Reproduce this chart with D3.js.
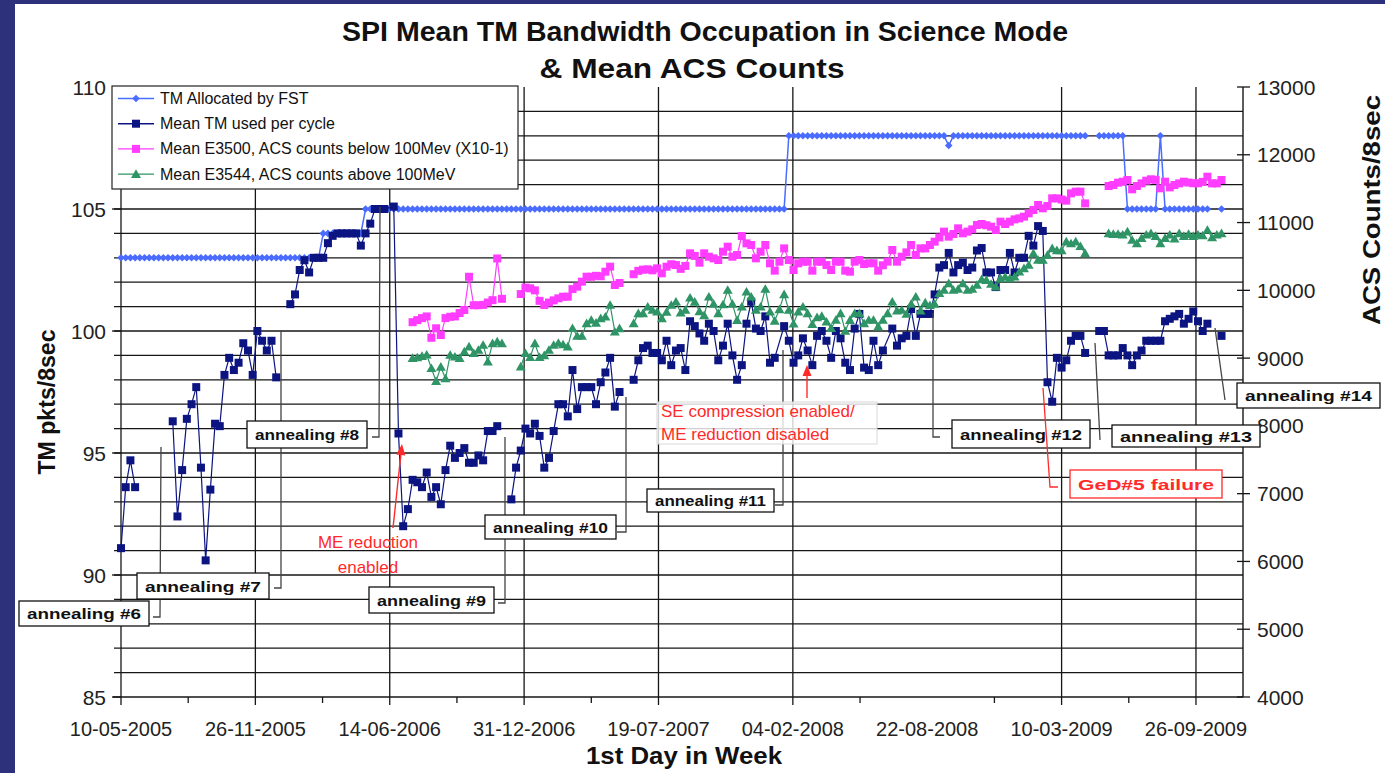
<!DOCTYPE html>
<html>
<head>
<meta charset="utf-8">
<script src="https://cdn.jsdelivr.net/npm/d3@7"></script>
<style>
  html, body { margin: 0; padding: 0; background: #2d317c; }
  #chart { width: 1385px; height: 773px; }
  text { font-family: 'Liberation Sans', Arial, sans-serif; }
</style>
</head>
<body>
<div id="chart"></div>
<script>
// ---------- values ----------

// x axis: one point per week, week 0 = 10-05-2005
const firstDay = '10-05-2005'
const daysShown = 1670
const xTickLabels = ['10-05-2005', '26-11-2005', '14-06-2006', '31-12-2006', '19-07-2007',
  '04-02-2008', '22-08-2008', '10-03-2009', '26-09-2009']
const xTicksWithoutGrid = ['22-08-2008']
const xMinorTickDays = [100, 300, 500, 700, 1100, 1300, 1500]

const yLeftTicks = [85, 90, 95, 100, 105, 110]
const yRightTicks = [4000, 5000, 6000, 7000, 8000, 9000, 10000, 11000, 12000, 13000]

const seriesNames = ['TM Allocated by FST', 'Mean TM used per cycle',
  'Mean E3500, ACS counts below 100Mev (X10-1)', 'Mean E3544, ACS counts above 100MeV']
const seriesColors = ['#4a6cff', '#0b1480', '#ff3cff', '#2f9466']

// TM allocated by FST, as runs [first week, last week, pkts]; null = no data
const tmAllocatedRuns = [[0, 42, 103], [43, 51, 104], [52, 141, 105], [142, 175, 108], [176, 176, 107.6],
  [177, 205, 108], null, [208, 213, 108], [214, 220, 105], [221, 221, 108], [222, 231, 105], null,
  [234, 234, 105]]

// mean TM used per cycle [week, pkts]; null = gap in the line
const tmUsed = [[0, 91.1], [1, 93.6], [2, 94.7], [3, 93.6], null,
  [11, 96.3], [12, 92.4], [13, 94.3], [14, 96.4], [15, 97.0], [16, 97.7], [17, 94.4], [18, 90.6], [19, 93.5],
  [20, 96.2], [21, 96.1], [22, 98.2], [23, 98.9], [24, 98.4], [25, 98.7], [26, 99.5], [27, 99.2], [28, 98.2],
  [29, 100.0], [30, 99.6], [31, 99.2], [32, 99.6], [33, 98.1], null,
  [36, 101.1], [37, 101.5], [38, 102.5], [39, 102.9], [40, 102.4], [41, 103.0], [42, 103.0], [43, 103.0],
  [44, 103.6], [45, 103.9], [46, 104.0], [47, 104.0], [48, 104.0], [49, 104.0], [50, 104.0], [51, 103.5],
  [52, 104.0], [53, 104.4], [54, 105.0], [55, 105.0], [56, 105.0], [58, 105.1], [59, 95.8], [60, 92.0],
  [61, 92.7], [62, 93.9], [63, 93.8], [64, 93.6], [65, 94.2], [66, 93.2], [67, 93.6], [68, 92.9], [69, 94.3],
  [70, 95.3], [71, 94.8], [72, 95.0], [73, 95.2], [74, 94.6], [75, 94.6], [76, 94.9], [77, 94.7], [78, 95.9],
  [79, 95.9], [80, 96.1], null,
  [83, 93.1], [84, 94.4], [85, 95.1], [86, 96.0], [87, 95.8], [88, 96.2], [89, 95.7], [90, 94.4], [91, 94.8],
  [92, 95.9], [93, 97.0], [94, 97.0], [95, 96.5], [96, 98.4], [97, 96.8], [98, 97.7], [99, 97.7], [100, 97.7],
  [101, 97.0], [102, 97.9], [103, 98.3], [104, 98.9], [105, 96.9], [106, 97.5], null,
  [109, 98.0], [110, 98.8], [111, 99.3], [112, 99.4], [113, 99.1], [114, 99.1], [115, 98.8], [116, 99.6],
  [117, 98.6], [118, 99.2], [119, 99.3], [120, 98.4], [121, 100.4], [122, 100.2], [123, 99.9], [124, 99.6],
  [125, 100.3], [126, 100.0], [127, 98.8], [128, 99.4], [129, 100.3], [130, 99.0], [131, 98.0], [132, 98.6],
  [133, 100.3], [134, 101.2], [135, 100.1], [136, 100.0], [137, 100.6], [138, 98.7], [139, 98.9], [141, 100.2],
  [142, 99.6], [143, 98.7], [144, 99.0], [145, 99.7], [146, 99.2], [147, 98.6], [148, 99.8], [149, 100.0],
  [150, 99.6], [151, 98.9], [152, 100.0], [153, 99.7], [154, 98.7], [155, 98.4], [156, 100.1], [157, 100.7],
  [158, 98.5], [159, 98.4], [160, 99.6], [161, 98.6], [162, 99.2], [164, 100.1], [165, 99.4], [166, 99.7],
  [167, 99.8], [168, 100.9], [169, 99.8], [170, 100.7], [171, 100.7], [172, 100.7], [173, 101.5], [174, 102.6],
  [175, 102.7], [176, 103.2], [177, 102.4], [178, 102.7], [179, 102.8], [180, 102.5], [181, 102.6], [182, 103.3],
  [183, 103.4], [184, 102.4], [185, 102.4], [186, 101.8], [187, 102.5], [188, 102.5], [189, 103.2], [190, 102.4],
  [191, 103.0], [192, 103.0], [193, 103.9], [194, 103.5], [195, 104.3], [196, 104.1], [197, 97.9], [198, 97.1],
  [199, 98.9], [200, 98.5], [201, 98.8], [202, 99.6], [203, 99.8], [204, 99.8], [205, 99.1], null,
  [208, 100.0], [209, 100.0], [210, 99.0], [211, 99.0], [212, 99.0], [213, 99.3], [214, 99.0], [215, 98.6],
  [216, 99.0], [217, 99.2], [218, 99.6], [219, 99.6], [220, 99.6], [221, 99.6], [222, 100.4], [223, 100.5],
  [224, 100.6], [225, 100.7], [226, 100.3], [227, 100.5], [228, 100.8], [229, 100.4], [230, 100.0], [231, 100.3],
  null, [234, 99.8]]

// mean E3500 ACS counts below 100 MeV, x 0.1 [week, counts]
const acsBelow = [[62, 9530], [63, 9560], [64, 9590], [65, 9615], [66, 9300], [67, 9440], [68, 9340], [69, 9590],
  [70, 9610], [71, 9615], [72, 9665], [73, 9710], [74, 10200], [75, 9780], [76, 9780], [77, 9785], [78, 9820],
  [79, 9855], [80, 10470], [81, 9875], null,
  [85, 9945], [86, 10040], [87, 10030], [88, 10000], [89, 9845], [90, 9783], [91, 9820], [92, 9852], [93, 9882],
  [94, 9906], [95, 9906], [96, 10018], [97, 10054], [98, 10128], [99, 10201], [100, 10200], [101, 10214],
  [102, 10208], [103, 10275], [104, 10349], [105, 10079], [106, 10108], null,
  [109, 10238], [110, 10288], [111, 10305], [112, 10310], [113, 10295], [114, 10324], [115, 10251], [116, 10349],
  [117, 10385], [118, 10373], [119, 10317], [120, 10360], [121, 10546], [122, 10508], [123, 10408], [124, 10546],
  [125, 10496], [126, 10472], [127, 10447], [128, 10570], [129, 10644], [130, 10496], [131, 10521], [132, 10801],
  [133, 10693], [134, 10669], [135, 10472], [136, 10570], [137, 10669], [138, 10398], [139, 10290], [140, 10423],
  [141, 10619], [142, 10447], [143, 10300], [144, 10398], [145, 10423], [146, 10423], [147, 10290], [148, 10423],
  [149, 10423], [150, 10373], [151, 10300], [152, 10423], [153, 10423], [154, 10290], [155, 10275], [156, 10423],
  [157, 10447], [158, 10388], [159, 10400], [160, 10400], [161, 10290], [162, 10370], [163, 10423], [164, 10595],
  [165, 10423], [166, 10496], [167, 10560], [168, 10669], [169, 10521], [170, 10619], [171, 10619], [172, 10669],
  [173, 10718], [174, 10780], [175, 10866], [176, 10792], [177, 10831], [178, 10915], [179, 10841], [180, 10866],
  [181, 10900], [182, 10964], [183, 10979], [184, 10960], [185, 10939], [186, 10890], [187, 11013], [188, 10979],
  [189, 11013], [190, 11047], [191, 11062], [192, 11087], [193, 11136], [194, 11185], [195, 11259], [196, 11210],
  [197, 11244], [198, 11357], [199, 11357], [200, 11340], [201, 11323], [202, 11431], [203, 11456], [204, 11456],
  [205, 11283], null,
  [210, 11539], [211, 11554], [212, 11588], [213, 11603], [214, 11628], [215, 11490], [216, 11539], [217, 11578],
  [218, 11618], [219, 11638], [220, 11630], [221, 11505], [222, 11603], [223, 11519], [224, 11554], [225, 11578],
  [226, 11603], [227, 11590], [228, 11580], [229, 11580], [230, 11600], [231, 11677], [232, 11578], [233, 11578],
  [234, 11628]]

// mean E3544 ACS counts above 100 MeV [week, counts]
const acsAbove = [[62, 9000], [63, 9010], [64, 9030], [65, 9050], [66, 8850], [67, 8660], [68, 8870], [69, 8700],
  [70, 9046], [71, 9021], [72, 8997], [73, 9095], [74, 9169], [75, 9071], [76, 9120], [77, 9194], [78, 8948],
  [79, 9218], [80, 9243], [81, 9218], null,
  [85, 8874], [86, 9071], [87, 9012], [88, 9218], [89, 9012], [90, 9040], [91, 9120], [92, 9194], [93, 9223],
  [94, 9200], [95, 9169], [96, 9440], [97, 9326], [98, 9326], [99, 9513], [100, 9562], [101, 9520], [102, 9587],
  [103, 9611], [104, 9784], [105, 9390], [106, 9439], null,
  [109, 9513], [110, 9660], [111, 9660], [112, 9758], [113, 9710], [114, 9685], [115, 9587], [116, 9680],
  [117, 9784], [118, 9832], [119, 9670], [120, 9710], [121, 9890], [122, 9830], [123, 9690], [124, 9630],
  [125, 9906], [126, 9800], [127, 9660], [128, 9790], [129, 10005], [130, 9800], [131, 9560], [132, 9758],
  [133, 9980], [134, 9906], [135, 9710], [136, 9758], [137, 10020], [138, 9685], [139, 9550], [140, 9719],
  [141, 9940], [142, 9710], [143, 9508], [144, 9685], [145, 9758], [146, 9660], [147, 9500], [148, 9601],
  [149, 9620], [150, 9537], [151, 9440], [152, 9562], [153, 9660], [154, 9400], [155, 9560], [156, 9660],
  [157, 9660], [158, 9513], [159, 9562], [160, 9562], [161, 9464], [162, 9562], [163, 9660], [164, 9832],
  [165, 9700], [166, 9710], [167, 9650], [168, 9798], [169, 9906], [170, 9700], [171, 9818], [172, 9780],
  [173, 9800], [174, 9956], [175, 10005], [176, 10103], [177, 10005], [178, 10020], [179, 10103], [180, 10005],
  [181, 10020], [182, 10079], [183, 10162], [184, 10150], [185, 10093], [186, 10054], [187, 10177], [188, 10200],
  [189, 10177], [190, 10200], [191, 10275], [192, 10324], [193, 10373], [194, 10546], [195, 10447], [196, 10447],
  [197, 10521], [198, 10619], [199, 10590], [200, 10590], [201, 10718], [202, 10690], [203, 10718], [204, 10650],
  [205, 10546], null,
  [210, 10841], [211, 10830], [212, 10830], [213, 10820], [214, 10866], [215, 10742], [216, 10693], [217, 10770],
  [218, 10820], [219, 10840], [220, 10800], [221, 10693], [222, 10770], [223, 10820], [224, 10760], [225, 10840],
  [226, 10800], [227, 10830], [228, 10800], [229, 10820], [230, 10810], [231, 10890], [232, 10780], [233, 10820],
  [234, 10841]]

// ---------- layout ----------
const visW = 1385
const visH = 773
const plot = { left: 121, right: 1243, top: 87, bottom: 697 }
const gridColor = '#161616'
const noteRed = '#ff2a2a'

const parseDay = d3.utcParse('%d-%m-%Y')
const day0 = parseDay(firstDay)
const weekDate = w => d3.utcDay.offset(day0, 7 * w)

const x = d3.scaleUtc()
  .domain([day0, d3.utcDay.offset(day0, daysShown)])
  .range([plot.left, plot.right])
const yL = d3.scaleLinear().domain([85, 110]).range([plot.bottom, plot.top])
const yR = d3.scaleLinear().domain([4000, 13000]).range([plot.bottom, plot.top])

const markers = {
  diamond: 'M0,-3.8L3.8,0L0,3.8L-3.8,0Z',
  square: 'M-4,-4H4V4H-4Z',
  triangle: 'M0,-4.8L5,3.8H-5Z'
}

const vis = d3.select('#chart')
  .append('svg')
  .attr('width', visW)
  .attr('height', visH)

// page frame
vis.append('rect').attr('width', visW).attr('height', visH).attr('fill', '#2d317c')
vis.append('rect').attr('x', 15).attr('y', 4).attr('width', visW - 15).attr('height', visH - 4).attr('fill', '#fff')

function fitText (sel, width) {
  return sel.attr('textLength', width).attr('lengthAdjust', 'spacingAndGlyphs')
}

/* ---------- grid and axes ---------- */

function setupGrid () {
  const g = vis.append('g')
  // horizontal lines every pkt
  const rows = d3.range(86, 110)
  g.selectAll('line.h').data(rows).join('line')
    .attr('x1', 114)
    .attr('x2', plot.right)
    .attr('y1', d => yL(d))
    .attr('y2', d => yL(d))
    .attr('stroke', gridColor)
    .attr('stroke-width', 1.3)

  // vertical lines at the labelled dates
  const cols = xTickLabels.filter(d => !xTicksWithoutGrid.includes(d)).map(parseDay)
  g.selectAll('line.v').data(cols).join('line')
    .attr('x1', d => x(d))
    .attr('x2', d => x(d))
    .attr('y1', plot.top)
    .attr('y2', plot.bottom + 8)
    .attr('stroke', gridColor)
    .attr('stroke-width', 1.3)

  g.selectAll('line.m').data(xMinorTickDays).join('line')
    .attr('x1', d => x(d3.utcDay.offset(day0, d)))
    .attr('x2', d => x(d3.utcDay.offset(day0, d)))
    .attr('y1', plot.bottom)
    .attr('y2', plot.bottom + 6)
    .attr('stroke', gridColor)
    .attr('stroke-width', 1.3)

  // axis lines
  g.append('line').attr('x1', plot.left - 8).attr('x2', plot.right)
    .attr('y1', plot.bottom).attr('y2', plot.bottom)
    .attr('stroke', gridColor).attr('stroke-width', 1.4)
  g.append('line').attr('x1', plot.right).attr('x2', plot.right)
    .attr('y1', plot.top).attr('y2', plot.bottom)
    .attr('stroke', gridColor).attr('stroke-width', 1.4)

  // left ticks and labels
  g.selectAll('line.lt').data(yLeftTicks).join('line')
    .attr('x1', plot.left - 9).attr('x2', plot.left)
    .attr('y1', d => yL(d)).attr('y2', d => yL(d))
    .attr('stroke', gridColor).attr('stroke-width', 1.3)
  g.selectAll('text.lt').data(yLeftTicks).join('text')
    .attr('x', 106)
    .attr('y', d => yL(d) + 7.5)
    .attr('text-anchor', 'end')
    .attr('font-size', 21)
    .attr('fill', '#222')
    .text(d => d)

  // right ticks and labels
  g.selectAll('line.rt').data(yRightTicks).join('line')
    .attr('x1', plot.right - 6).attr('x2', plot.right + 7)
    .attr('y1', d => yR(d)).attr('y2', d => yR(d))
    .attr('stroke', gridColor).attr('stroke-width', 1.3)
  g.selectAll('text.rt').data(yRightTicks).join('text')
    .attr('x', 1257)
    .attr('y', d => yR(d) + 7.5)
    .attr('font-size', 21)
    .attr('fill', '#222')
    .text(d => d)

  // date labels
  g.selectAll('text.xt').data(xTickLabels).join('text')
    .attr('x', d => x(parseDay(d)))
    .attr('y', 736)
    .attr('text-anchor', 'middle')
    .attr('font-size', 20)
    .attr('fill', '#222')
    .text(d => d)
}

/* ---------- series ---------- */

function expandRuns (runs) {
  const out = []
  runs.forEach(r => {
    if (r === null) {
      out.push(null)
    } else {
      for (let w = r[0]; w <= r[1]; w++) out.push([w, r[2]])
    }
  })
  return out
}

function drawSeries (points, yScale, color, marker, width) {
  const line = d3.line()
    .defined(d => d !== null)
    .x(d => x(weekDate(d[0])))
    .y(d => yScale(d[1]))

  vis.append('path')
    .datum(points)
    .attr('d', line)
    .attr('fill', 'none')
    .attr('stroke', color)
    .attr('stroke-width', width)

  vis.append('g')
    .selectAll('path')
    .data(points.filter(d => d !== null))
    .join('path')
    .attr('transform', d => `translate(${x(weekDate(d[0]))},${yScale(d[1])})`)
    .attr('d', marker)
    .attr('fill', color)
}

/* ---------- legend, titles, notes ---------- */

function setupLegend () {
  const g = vis.append('g')
  g.append('rect')
    .attr('x', 112).attr('y', 86).attr('width', 406).attr('height', 103)
    .attr('fill', '#fff').attr('stroke', '#222').attr('stroke-width', 1.2)
  const shapes = [markers.diamond, markers.square, markers.square, markers.triangle]
  seriesNames.forEach((name, i) => {
    const cy = 98.5 + i * 25.2
    g.append('line').attr('x1', 118).attr('x2', 154).attr('y1', cy).attr('y2', cy)
      .attr('stroke', seriesColors[i]).attr('stroke-width', 1.4)
    g.append('path').attr('transform', `translate(136,${cy})`).attr('d', shapes[i]).attr('fill', seriesColors[i])
    g.append('text').attr('x', 160).attr('y', cy + 5.5).attr('font-size', 16).attr('fill', '#111').text(name)
  })
}

function setupTitles () {
  fitText(vis.append('text').attr('x', 705).attr('y', 41).attr('text-anchor', 'middle')
    .attr('font-size', 27).attr('font-weight', 'bold').attr('fill', '#111')
    .text('SPI Mean TM Bandwidth Occupation in Science Mode'), 726)
  fitText(vis.append('text').attr('x', 692).attr('y', 78).attr('text-anchor', 'middle')
    .attr('font-size', 27).attr('font-weight', 'bold').attr('fill', '#111')
    .text('& Mean ACS Counts'), 305)
  fitText(vis.append('text').attr('x', 684).attr('y', 764).attr('text-anchor', 'middle')
    .attr('font-size', 24).attr('font-weight', 'bold').attr('fill', '#111')
    .text('1st Day in Week'), 196)
  fitText(vis.append('text').attr('transform', 'translate(55,402) rotate(-90)').attr('text-anchor', 'middle')
    .attr('font-size', 24).attr('font-weight', 'bold').attr('fill', '#111')
    .text('TM pkts/8sec'), 145)
  fitText(vis.append('text').attr('transform', 'translate(1380,210) rotate(-90)').attr('text-anchor', 'middle')
    .attr('font-size', 24).attr('font-weight', 'bold').attr('fill', '#111')
    .text('ACS Counts/8sec'), 230)
}

const notes = [
  { text: 'annealing #6', box: [19, 601, 130, 25], path: [[153, 617], [160, 617], [161, 447]] },
  { text: 'annealing #7', box: [137, 573, 132, 26], path: [[274, 588], [281, 588], [281, 331]] },
  { text: 'annealing #8', box: [247, 421, 120, 27], path: [[372, 437], [379, 437], [380, 207]] },
  { text: 'annealing #9', box: [369, 587, 125, 26], path: [[498, 603], [505, 603], [505, 437]] },
  { text: 'annealing #10', box: [485, 515, 131, 24], path: [[617, 532], [626, 532], [626, 397]] },
  { text: 'annealing #11', box: [647, 489, 127, 23], path: [[775, 505], [783, 505], [783, 350]] },
  { text: 'annealing #12', box: [952, 420, 138, 28], path: [[940, 437], [933, 437], [933, 313]] },
  { text: 'annealing #13', box: [1112, 425, 148, 22], path: [[1095, 343], [1100, 440]] },
  { text: 'annealing #14', box: [1237, 383, 143, 25], path: [[1215, 328], [1225, 400]] },
  { text: 'GeD#5 failure', box: [1070, 470, 152, 28], path: [[1043, 388], [1050, 487], [1058, 487]], red: true }
]

function setupNotes () {
  const g = vis.append('g')
  notes.forEach(n => {
    const color = n.red ? noteRed : '#111'
    g.append('path')
      .attr('d', d3.line()(n.path))
      .attr('fill', 'none')
      .attr('stroke', n.red ? noteRed : '#444')
      .attr('stroke-width', 1.3)
    g.append('rect')
      .attr('x', n.box[0]).attr('y', n.box[1]).attr('width', n.box[2]).attr('height', n.box[3])
      .attr('fill', '#fff').attr('stroke', color).attr('stroke-width', 1.3)
    fitText(g.append('text')
      .attr('x', n.box[0] + n.box[2] / 2)
      .attr('y', n.box[1] + n.box[3] / 2 + 5.5)
      .attr('text-anchor', 'middle')
      .attr('font-family', "'DejaVu Sans', Verdana, sans-serif")
      .attr('font-weight', 'bold')
      .attr('font-size', 15)
      .attr('fill', color)
      .text(n.text), n.box[2] - 16)
  })

  // SE compression note on a faint white panel
  g.append('rect').attr('x', 657).attr('y', 402).attr('width', 220).attr('height', 42)
    .attr('fill', '#fff').attr('fill-opacity', 0.8).attr('stroke', '#d8d8d8')
  g.append('text').attr('x', 661).attr('y', 417).attr('font-size', 17).attr('fill', noteRed)
    .text('SE compression enabled/')
  g.append('text').attr('x', 661).attr('y', 440).attr('font-size', 17).attr('fill', noteRed)
    .text('ME reduction disabled')

  g.append('text').attr('x', 368).attr('y', 548).attr('text-anchor', 'middle').attr('font-size', 17)
    .attr('fill', noteRed).text('ME reduction')
  g.append('text').attr('x', 368).attr('y', 573).attr('text-anchor', 'middle').attr('font-size', 17)
    .attr('fill', noteRed).text('enabled')

  arrow(g, [393, 528], [402, 444])
  arrow(g, [807, 398], [807, 365])
}

function arrow (g, from, to) {
  const ang = Math.atan2(to[1] - from[1], to[0] - from[0])
  const len = 11
  const half = 4.5
  const bx = to[0] - len * Math.cos(ang)
  const by = to[1] - len * Math.sin(ang)
  g.append('line').attr('x1', from[0]).attr('y1', from[1]).attr('x2', bx).attr('y2', by)
    .attr('stroke', noteRed).attr('stroke-width', 1.4)
  g.append('path')
    .attr('d', `M${to[0]},${to[1]}L${bx - half * Math.sin(ang)},${by + half * Math.cos(ang)}` +
      `L${bx + half * Math.sin(ang)},${by - half * Math.cos(ang)}Z`)
    .attr('fill', noteRed)
}

setupGrid()
drawSeries(expandRuns(tmAllocatedRuns), yL, seriesColors[0], markers.diamond, 1.5)
drawSeries(tmUsed, yL, seriesColors[1], markers.square, 1.2)
drawSeries(acsBelow, yR, seriesColors[2], markers.square, 1.2)
drawSeries(acsAbove, yR, seriesColors[3], markers.triangle, 1.2)
setupLegend()
setupTitles()
setupNotes()
</script>
</body>
</html>
